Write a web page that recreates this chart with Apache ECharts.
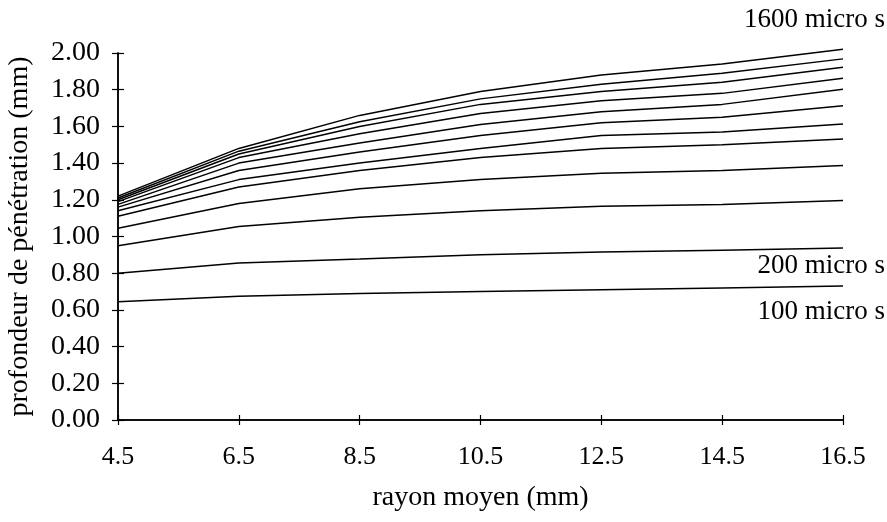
<!DOCTYPE html>
<html>
<head>
<meta charset="utf-8">
<script src="https://cdn.jsdelivr.net/npm/echarts@6/dist/echarts.min.js"></script>
<style>
html,body{margin:0;padding:0;background:#fff;}
#chart{width:887px;height:522px;}
</style>
</head>
<body>
<div id="chart"></div>
<script>
const categories = ['4.5','6.5','8.5','10.5','12.5','14.5','16.5'];
const yTicks = [0,0.2,0.4,0.6,0.8,1.0,1.2,1.4,1.6,1.8,2.0];

const s100  = [0.645, 0.675, 0.690, 0.700, 0.710, 0.720, 0.730];
const s200  = [0.800, 0.855, 0.877, 0.900, 0.915, 0.925, 0.937];
const s3    = [0.950, 1.055, 1.105, 1.140, 1.165, 1.175, 1.196];
const s4    = [1.045, 1.180, 1.260, 1.310, 1.345, 1.360, 1.387];
const s5    = [1.110, 1.270, 1.360, 1.430, 1.480, 1.500, 1.531];
const s6    = [1.140, 1.310, 1.400, 1.480, 1.550, 1.570, 1.613];
const s7    = [1.160, 1.360, 1.460, 1.550, 1.620, 1.650, 1.713];
const s8    = [1.175, 1.400, 1.510, 1.610, 1.680, 1.720, 1.802];
const s9    = [1.190, 1.430, 1.560, 1.670, 1.740, 1.780, 1.862];
const s10   = [1.200, 1.450, 1.600, 1.720, 1.790, 1.840, 1.922];
const s11   = [1.210, 1.465, 1.625, 1.750, 1.830, 1.890, 1.968];
const s1600 = [1.220, 1.480, 1.660, 1.790, 1.880, 1.940, 2.020];

const seriesData = [s100, s200, s3, s4, s5, s6, s7, s8, s9, s10, s11, s1600];
const seriesNames = ['100 micro s','200 micro s','courbe 3','courbe 4','courbe 5','courbe 6',
                     'courbe 7','courbe 8','courbe 9','courbe 10','courbe 11','1600 micro s'];

const FONT = '"Liberation Serif", "Times New Roman", serif';
const chart = echarts.init(document.getElementById('chart'));

const baseY = {
  type: 'value', min: 0, max: 2, interval: 0.2,
  splitLine: {show: false},
  axisLine: {show: true, onZero: false, lineStyle: {color: '#000', width: 1.5}},
};
const baseX = {
  type: 'category', data: categories, boundaryGap: false,
  splitLine: {show: false},
  axisLine: {show: true, onZero: false, lineStyle: {color: '#000', width: 1.5}},
};

chart.setOption({
  backgroundColor: '#fff',
  animation: false,
  grid: {left: 118, right: 44, top: 53, bottom: 102, containLabel: false, outerBoundsMode: 'none'},
  xAxis: [
    Object.assign({}, baseX, {
      axisTick: {show: true, inside: false, length: 5, lineStyle: {color: '#000', width: 1.2}},
      axisLabel: {color: '#000', fontFamily: FONT, fontSize: 26, margin: 24},
      name: 'rayon moyen (mm)', nameLocation: 'middle', nameGap: 64,
      nameTextStyle: {color: '#000', fontFamily: FONT, fontSize: 28}
    }),
    Object.assign({}, baseX, {
      position: 'bottom',
      axisTick: {show: true, inside: true, length: 5, lineStyle: {color: '#000', width: 1.2}},
      axisLabel: {show: false}
    })
  ],
  yAxis: [
    Object.assign({}, baseY, {
      axisTick: {show: true, inside: false, length: 6, lineStyle: {color: '#000', width: 1.2}},
      axisLabel: {color: '#000', fontFamily: FONT, fontSize: 28, margin: 18,
                  formatter: v => v.toFixed(2)},
      name: 'profondeur de pénétration (mm)', nameLocation: 'middle', nameGap: 84,
      nameRotate: 90,
      nameTextStyle: {color: '#000', fontFamily: FONT, fontSize: 28}
    }),
    Object.assign({}, baseY, {
      position: 'left',
      axisTick: {show: true, inside: true, length: 6, lineStyle: {color: '#000', width: 1.2}},
      axisLabel: {show: false}
    })
  ],
  series: seriesData.map((d, i) => ({
    name: seriesNames[i], type: 'line', data: d, xAxisIndex: 0, yAxisIndex: 0,
    symbol: 'none', clip: false, smooth: false,
    lineStyle: {color: '#000', width: 1.5}
  })),
  graphic: [
    {type: 'text', right: 2, top: 6, style: {text: '1600 micro s', fill: '#000', fontFamily: FONT, fontSize: 27}},
    {type: 'text', right: 2, top: 252, style: {text: '200 micro s', fill: '#000', fontFamily: FONT, fontSize: 27}},
    {type: 'text', right: 2, top: 298, style: {text: '100 micro s', fill: '#000', fontFamily: FONT, fontSize: 27}}
  ]
});
</script>
</body>
</html>
